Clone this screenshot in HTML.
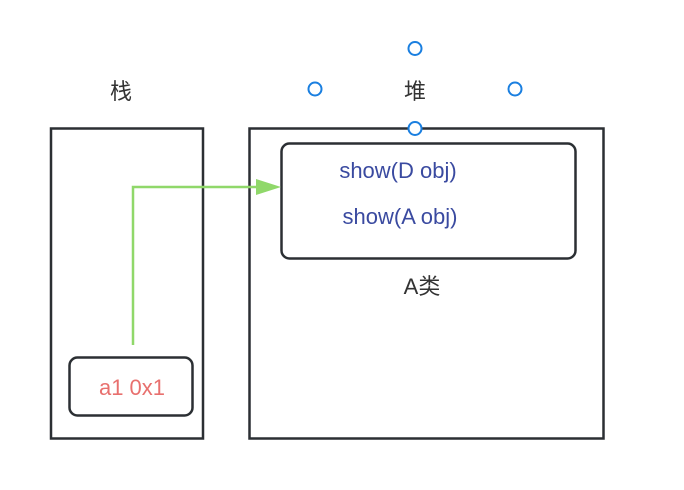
<!DOCTYPE html>
<html><head><meta charset="utf-8"><style>
html,body{margin:0;padding:0;background:#fff;width:684px;height:490px;overflow:hidden}
text{font-family:"Liberation Sans","Noto Sans CJK SC",sans-serif}
</style></head><body>
<svg width="684" height="490" xmlns="http://www.w3.org/2000/svg">
<rect x="51" y="128.5" width="152" height="310" fill="none" stroke="#2b2f33" stroke-width="2.5"/>
<rect x="249.5" y="128.5" width="354" height="310" fill="none" stroke="#2b2f33" stroke-width="2.5"/>
<rect x="281.5" y="143.5" width="294" height="115" rx="8" fill="none" stroke="#2b2f33" stroke-width="2.5"/>
<rect x="69.5" y="357.5" width="123" height="58" rx="8" fill="none" stroke="#2b2f33" stroke-width="2.5"/>
<polyline points="133,345 133,187 260,187" fill="none" stroke="#90d86a" stroke-width="2.5"/>
<polygon points="256,179 281,187 256,195" fill="#90d86a"/>
<text x="121" y="99" font-size="22" fill="#333" text-anchor="middle">栈</text>
<text x="415" y="99" font-size="22" fill="#333" text-anchor="middle">堆</text>
<text x="398" y="178" font-size="22" fill="#3a4aa0" text-anchor="middle">show(D obj)</text>
<text x="400" y="224" font-size="22" fill="#3a4aa0" text-anchor="middle">show(A obj)</text>
<text x="422" y="294" font-size="22" fill="#333" text-anchor="middle">A类</text>
<text x="132" y="395" font-size="22" fill="#e8706e" text-anchor="middle">a1 0x1</text>
<g fill="#fff" stroke="#1a7fe0" stroke-width="2">
<circle cx="415" cy="48.5" r="6.5"/>
<circle cx="315" cy="89" r="6.5"/>
<circle cx="515" cy="89" r="6.5"/>
<circle cx="415" cy="128.5" r="6.5"/>
</g>
</svg>
</body></html>
